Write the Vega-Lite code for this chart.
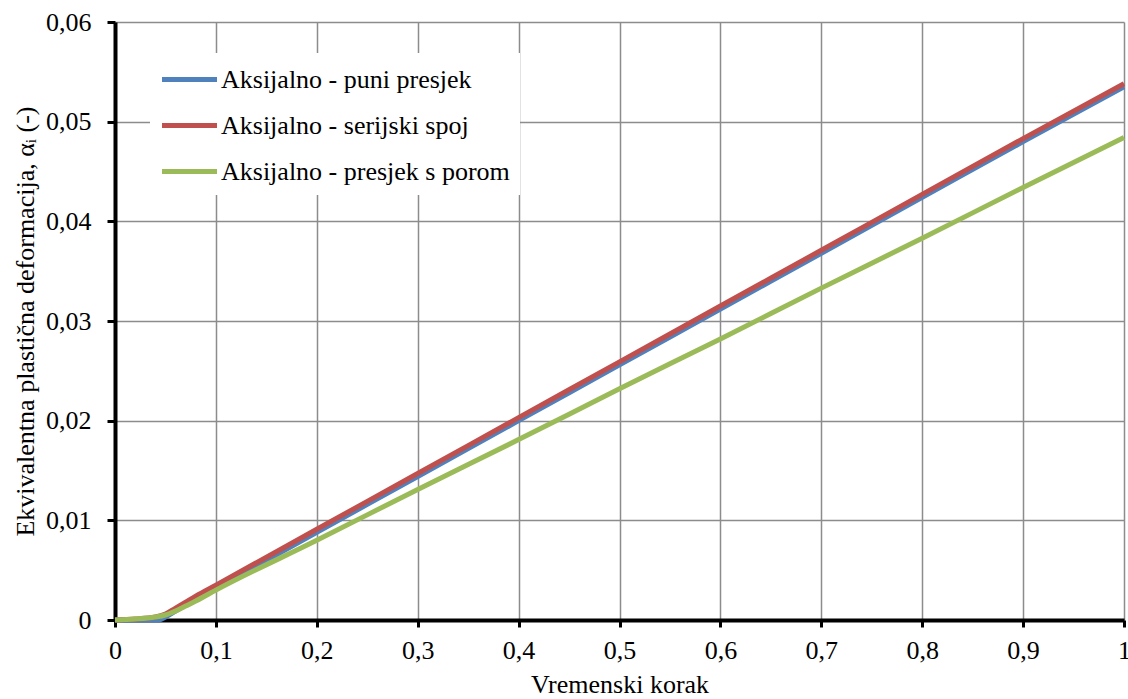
{
  "$schema": "https://vega.github.io/schema/vega-lite/v6.json",
  "width": 1009,
  "height": 598,
  "autosize": {"type": "none"},
  "padding": {"left": 115, "top": 22, "right": 4, "bottom": 79},
  "background": "white",
  "config": {
    "locale": {"number": {"decimal": ",", "thousands": ".", "grouping": [3], "currency": ["", " €"]}},
    "font": "Times New Roman",
    "view": {"stroke": null}
  },
  "data": {
    "values": [
      {"t": 0, "v": 0, "s": "Aksijalno - puni presjek"},
      {"t": 0.02, "v": 0, "s": "Aksijalno - puni presjek"},
      {"t": 0.04, "v": 0, "s": "Aksijalno - puni presjek"},
      {"t": 0.045, "v": 0.00005, "s": "Aksijalno - puni presjek"},
      {"t": 0.05, "v": 0.0003, "s": "Aksijalno - puni presjek"},
      {"t": 0.06, "v": 0.0009, "s": "Aksijalno - puni presjek"},
      {"t": 0.07, "v": 0.0015, "s": "Aksijalno - puni presjek"},
      {"t": 0.08, "v": 0.0021, "s": "Aksijalno - puni presjek"},
      {"t": 0.1, "v": 0.0032, "s": "Aksijalno - puni presjek"},
      {"t": 0.2, "v": 0.0088, "s": "Aksijalno - puni presjek"},
      {"t": 0.3, "v": 0.0144, "s": "Aksijalno - puni presjek"},
      {"t": 0.4, "v": 0.02, "s": "Aksijalno - puni presjek"},
      {"t": 0.5, "v": 0.0256, "s": "Aksijalno - puni presjek"},
      {"t": 0.6, "v": 0.0312, "s": "Aksijalno - puni presjek"},
      {"t": 0.7, "v": 0.0368, "s": "Aksijalno - puni presjek"},
      {"t": 0.8, "v": 0.0424, "s": "Aksijalno - puni presjek"},
      {"t": 0.9, "v": 0.048, "s": "Aksijalno - puni presjek"},
      {"t": 1.0, "v": 0.0535, "s": "Aksijalno - puni presjek"},

      {"t": 0, "v": 0, "s": "Aksijalno - serijski spoj"},
      {"t": 0.02, "v": 0.0001, "s": "Aksijalno - serijski spoj"},
      {"t": 0.04, "v": 0.0003, "s": "Aksijalno - serijski spoj"},
      {"t": 0.05, "v": 0.0006, "s": "Aksijalno - serijski spoj"},
      {"t": 0.06, "v": 0.0012, "s": "Aksijalno - serijski spoj"},
      {"t": 0.07, "v": 0.0018, "s": "Aksijalno - serijski spoj"},
      {"t": 0.08, "v": 0.0024, "s": "Aksijalno - serijski spoj"},
      {"t": 0.1, "v": 0.0035, "s": "Aksijalno - serijski spoj"},
      {"t": 0.2, "v": 0.0091, "s": "Aksijalno - serijski spoj"},
      {"t": 0.3, "v": 0.0147, "s": "Aksijalno - serijski spoj"},
      {"t": 0.4, "v": 0.0203, "s": "Aksijalno - serijski spoj"},
      {"t": 0.5, "v": 0.0259, "s": "Aksijalno - serijski spoj"},
      {"t": 0.6, "v": 0.0315, "s": "Aksijalno - serijski spoj"},
      {"t": 0.7, "v": 0.0371, "s": "Aksijalno - serijski spoj"},
      {"t": 0.8, "v": 0.0427, "s": "Aksijalno - serijski spoj"},
      {"t": 0.9, "v": 0.0483, "s": "Aksijalno - serijski spoj"},
      {"t": 1.0, "v": 0.0538, "s": "Aksijalno - serijski spoj"},

      {"t": 0, "v": 0, "s": "Aksijalno - presjek s porom"},
      {"t": 0.02, "v": 0.0001, "s": "Aksijalno - presjek s porom"},
      {"t": 0.04, "v": 0.0003, "s": "Aksijalno - presjek s porom"},
      {"t": 0.05, "v": 0.0005, "s": "Aksijalno - presjek s porom"},
      {"t": 0.06, "v": 0.0009, "s": "Aksijalno - presjek s porom"},
      {"t": 0.07, "v": 0.0014, "s": "Aksijalno - presjek s porom"},
      {"t": 0.08, "v": 0.0019, "s": "Aksijalno - presjek s porom"},
      {"t": 0.1, "v": 0.003, "s": "Aksijalno - presjek s porom"},
      {"t": 0.2, "v": 0.008, "s": "Aksijalno - presjek s porom"},
      {"t": 0.3, "v": 0.0131, "s": "Aksijalno - presjek s porom"},
      {"t": 0.4, "v": 0.0181, "s": "Aksijalno - presjek s porom"},
      {"t": 0.5, "v": 0.0232, "s": "Aksijalno - presjek s porom"},
      {"t": 0.6, "v": 0.0282, "s": "Aksijalno - presjek s porom"},
      {"t": 0.7, "v": 0.0333, "s": "Aksijalno - presjek s porom"},
      {"t": 0.8, "v": 0.0383, "s": "Aksijalno - presjek s porom"},
      {"t": 0.9, "v": 0.0434, "s": "Aksijalno - presjek s porom"},
      {"t": 1.0, "v": 0.0484, "s": "Aksijalno - presjek s porom"}
    ]
  },
  "mark": {"type": "line", "strokeWidth": 5, "interpolate": "monotone", "clip": false},
  "encoding": {
    "x": {
      "field": "t", "type": "quantitative",
      "scale": {"domain": [0, 1], "nice": false},
      "axis": {
        "title": "Vremenski korak",
        "values": [0, 0.1, 0.2, 0.3, 0.4, 0.5, 0.6, 0.7, 0.8, 0.9, 1],
        "format": "~g",
        "labelFont": "Times New Roman", "labelFontSize": 26, "labelColor": "black",
        "labelPadding": 10, "labelFlush": false,
        "titleFont": "Times New Roman", "titleFontSize": 26, "titleFontWeight": "normal", "titleColor": "black",
        "titlePadding": 8,
        "domainColor": "black", "domainWidth": 4,
        "tickColor": "black", "tickWidth": 3, "tickSize": 7,
        "grid": true, "gridColor": "#8c8c8c", "gridWidth": 1.5
      }
    },
    "y": {
      "field": "v", "type": "quantitative",
      "scale": {"domain": [0, 0.06], "nice": false},
      "axis": {
        "title": "Ekvivalentna plastična deformacija, αᵢ (-)",
        "values": [0, 0.01, 0.02, 0.03, 0.04, 0.05, 0.06],
        "format": "~g",
        "labelFont": "Times New Roman", "labelFontSize": 26, "labelColor": "black",
        "labelPadding": 16, "labelFlush": false,
        "titleFont": "Times New Roman", "titleFontSize": 26, "titleFontWeight": "normal", "titleColor": "black",
        "titlePadding": 7,
        "domainColor": "black", "domainWidth": 4,
        "tickColor": "black", "tickWidth": 3, "tickSize": 8,
        "grid": true, "gridColor": "#8c8c8c", "gridWidth": 1.5
      }
    },
    "color": {
      "field": "s", "type": "nominal",
      "scale": {
        "domain": ["Aksijalno - puni presjek", "Aksijalno - serijski spoj", "Aksijalno - presjek s porom"],
        "range": ["#4F81BD", "#C0504D", "#9BBB59"]
      },
      "legend": {
        "title": null,
        "orient": "none",
        "legendX": 35,
        "legendY": 31,
        "fillColor": "white",
        "padding": 10,
        "symbolType": "M-2,0H2",
        "symbolSize": 756,
        "symbolStrokeWidth": 5,
        "symbolOffset": 13,
        "labelFont": "Times New Roman",
        "labelFontSize": 26,
        "labelColor": "black",
        "labelOffset": 15,
        "labelLimit": 400,
        "rowPadding": 16
      }
    }
  }
}
